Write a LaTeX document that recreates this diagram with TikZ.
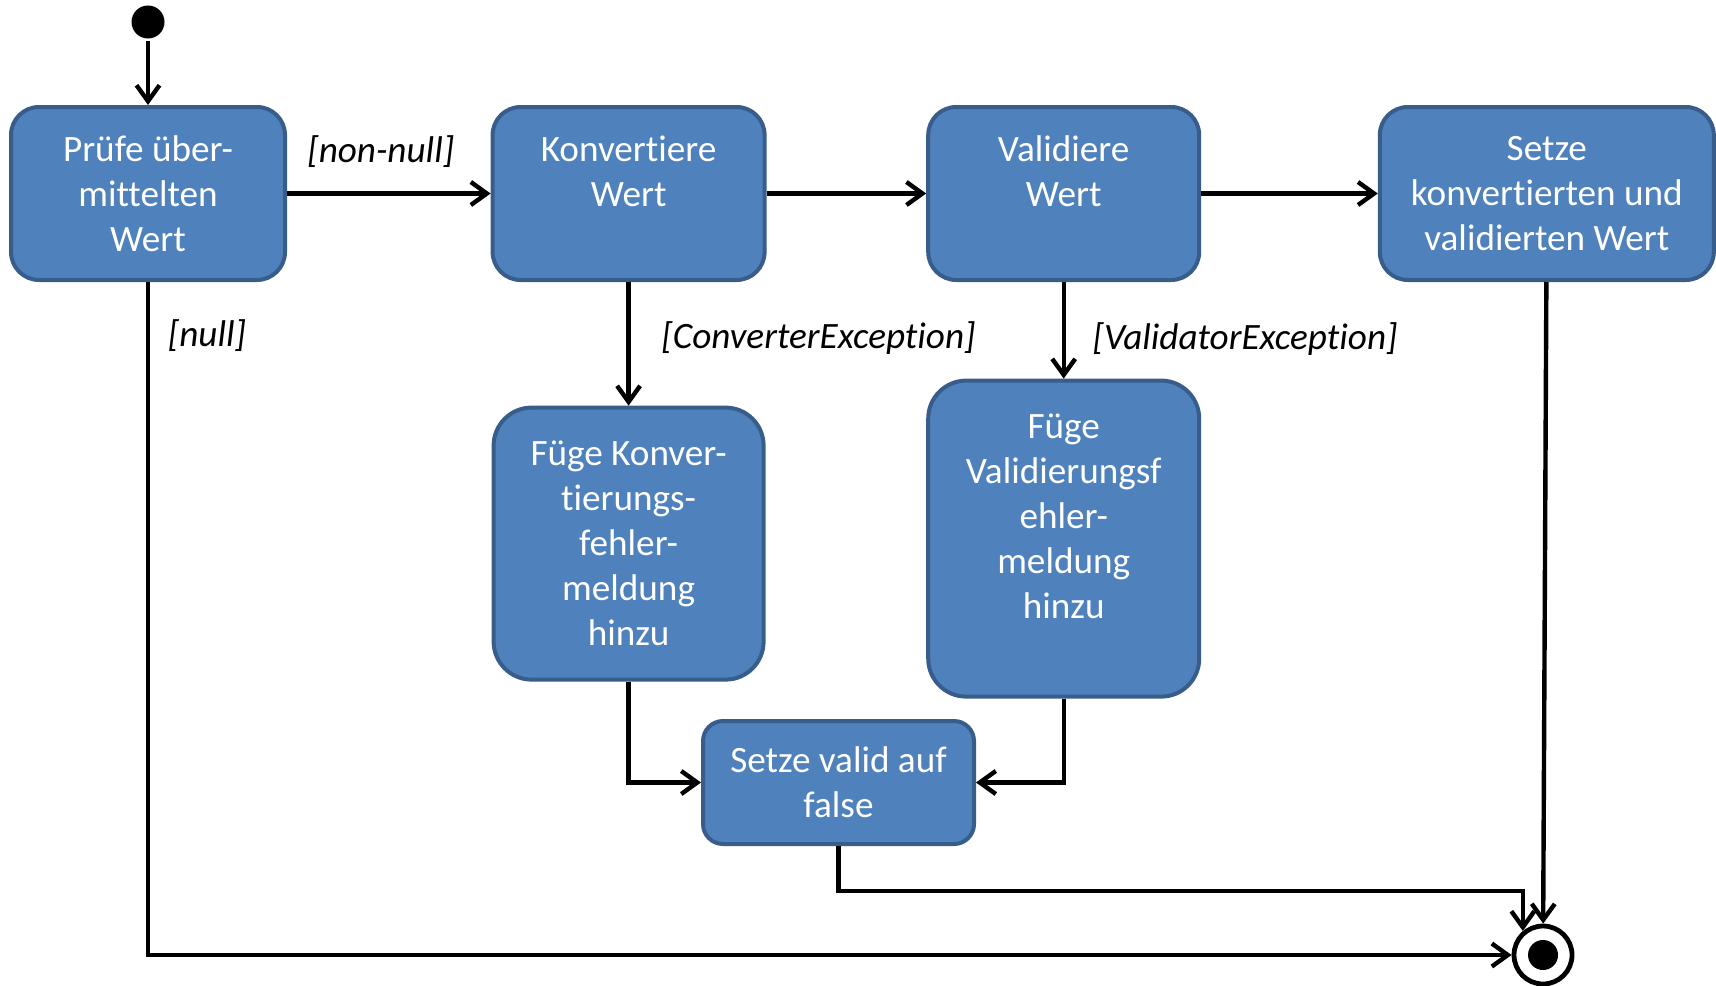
\documentclass[tikz,border=0pt]{standalone}
\usepackage{fontspec}
\setmainfont{Carlito}[Ligatures=NoCommon]
\usepackage{xcolor}
\usetikzlibrary{arrows.meta,calc,positioning}

\definecolor{actfill}{HTML}{4F81BD}
\definecolor{actdraw}{HTML}{385D8A}

\begin{document}
\begin{tikzpicture}[>={Straight Barb[length=8pt,width=11.5pt,line width=2.2pt]},
    line width=2.2pt]
  \tikzstyle{act}=[rectangle,draw=actdraw,fill=actfill,line width=2pt,
    text=white,align=center,inner sep=0pt,rounded corners=14pt,
    minimum height=86.5pt,font=\fontsize{18.6}{22.5}\selectfont]
  \tikzstyle{guard}=[font=\fontsize{18.6}{22.5}\selectfont\itshape]
  \useasboundingbox (0,0) rectangle (858pt,-492.5pt);
  \node[circle,fill=black,inner sep=0pt,minimum size=16.5pt] (init) at (74pt,-11pt) {};
  \node[act,minimum width=137pt] (pruefe) at (74pt,-96.75pt) {Prüfe über-\\mittelten\\Wert};
  \node[act,minimum width=136pt] (konv) [right=101.8pt of pruefe] {Konvertiere\\Wert\\~};
  \node[act,minimum width=135.5pt] (valid) [right=79.8pt of konv] {Validiere\\Wert\\~};
  \node[act,minimum width=167pt] (setze) [right=88.3pt of valid] {Setze\\konvertierten und\\validierten Wert};
  \node[act,minimum width=135pt,minimum height=136pt,rounded corners=19pt] (konvfehler)
    [below=61.8pt of konv] {Füge Konver-\\tierungs-\\fehler-\\meldung\\hinzu};
  \node[act,minimum width=135.5pt,minimum height=158pt,rounded corners=19pt] (validfehler)
    [below=48.3pt of valid] {Füge\\Validierungsf\\ehler-\\meldung\\hinzu\\~};
  \node[act,minimum width=135.5pt,minimum height=61.5pt,rounded corners=10pt] (falsch)
    at (419.25pt,-391.25pt) {Setze valid auf\\false};
  \node[circle,draw,line width=2.4pt,inner sep=0pt,minimum size=29pt] (final) at (771.5pt,-477.5pt) {};
  \fill (final) circle (7.5pt);
  \coordinate (knick) at ($(falsch.south)+(0,-22.5pt)$);
  \path[->]
  (init) edge (pruefe)
  (pruefe) edge node[guard,above,yshift=8.5pt,xshift=-4pt] {[non-null]} (konv)
  (konv) edge (valid)
  (valid) edge (setze)
  (konv) edge node[guard,right,xshift=12pt,yshift=3pt] {[ConverterException]} (konvfehler)
  (valid) edge node[guard,right,xshift=10pt,yshift=-4.5pt] {[ValidatorException]} (validfehler)
  (setze) edge (final)
  ;
  \draw[->] (pruefe) |- node[guard,pos=0.04,right,xshift=5.5pt] {[null]} (final);
  \draw[->] (konvfehler) |- (falsch);
  \draw[->] (validfehler) |- (falsch);
  \draw[->] (falsch) -- (knick) -| (final.130);
\end{tikzpicture}
\end{document}
